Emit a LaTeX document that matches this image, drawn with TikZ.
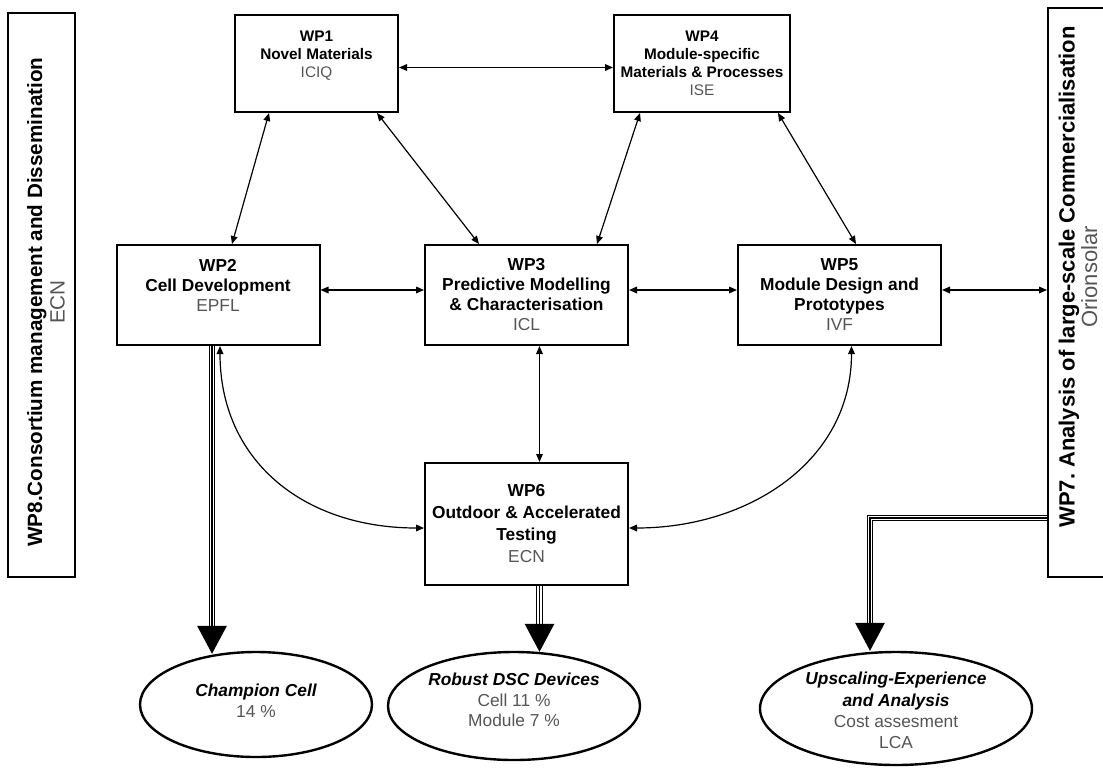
\documentclass[tikz,border=0pt]{standalone}
\usepackage{fontspec}
\setmainfont{Liberation Sans}
\usetikzlibrary{arrows.meta,shapes.geometric,calc}
\definecolor{partner}{RGB}{85,85,85}
\begin{document}
\begin{tikzpicture}[x=0.75pt,y=-0.75pt,
  every node/.style={font=\fontsize{13}{15.5}\selectfont},
  wpbox/.style={draw, line width=1.5pt, rectangle, align=center, inner sep=0pt, font=\fontsize{13}{15}\selectfont\bfseries},
  topbox/.style={wpbox, minimum height=72.75pt, font=\fontsize{11.5}{13.5}\selectfont\bfseries},
  midbox/.style={wpbox, minimum width=152.25pt, minimum height=75pt},
  sidebox/.style={draw, line width=1.5pt, rectangle, inner sep=0pt},
  sidetext/.style={rotate=90, align=center, inner sep=0pt},
  goal/.style={draw, ellipse, line width=1.8pt, inner sep=0pt},
  goaltext/.style={align=center, inner sep=0pt, font=\fontsize{13}{15.5}\selectfont\bfseries\itshape},
  link/.style={line width=0.9pt, {Triangle[length=6pt,width=5pt]}-{Triangle[length=6pt,width=5pt]}},
  tripleout/.style={line width=0.8pt, double=white, double distance=3.6pt, shorten >=18pt},
  triplemid/.style={line width=1.4pt, -{Triangle[length=21pt,width=22pt]}},
]
\useasboundingbox (0,0) rectangle (1103,775);
\clip (0,0) rectangle (1103,775);

% work-package boxes
\node[topbox, minimum width=122.25pt] (wp1) at (316.5,63.5) {WP1\\Novel Materials\\{\mdseries\color{partner}ICIQ}\\\mbox{}};
\node[topbox, minimum width=132pt] (wp4) at (702,63.5) {WP4\\Module-specific\\Materials \& Processes\\{\mdseries\color{partner}ISE}};
\node[midbox] (wp2) at (218,295) {WP2\\Cell Development\\{\mdseries\color{partner}EPFL}\\\mbox{}};
\node[midbox] (wp3) at (526.5,295) {WP3\\Predictive Modelling\\\& Characterisation\\{\mdseries\color{partner}ICL}};
\node[midbox] (wp5) at (839.5,295) {WP5\\Module Design and\\Prototypes\\{\mdseries\color{partner}IVF}};
\node[midbox, minimum height=91.5pt, font=\fontsize{13}{16.5}\selectfont\bfseries] (wp6) at (526.5,524) {WP6\\Outdoor \& Accelerated\\Testing\\{\mdseries\color{partner}ECN}};

% side boxes
\node[sidebox, minimum width=50.25pt, minimum height=423pt] (wp8) at (41.5,295) {};
\node[sidetext, font=\fontsize{15.5}{17}\selectfont\bfseries] (wp8t) at (46,302) {WP8.Consortium management and Dissemination\\{\mdseries\color{partner}ECN}};
\node[sidebox, minimum width=57pt, minimum height=426.75pt] (wp7) at (1086,292.5) {};
\node[sidetext, font=\fontsize{16.5}{17}\selectfont\bfseries] (wp7t) at (1078,277) {WP7.\ Analysis of large-scale Commercialisation\\{\mdseries\color{partner}Orionsolar}};

% goals
\node[goal, minimum width=174pt, minimum height=78.75pt] (champ) at (256,704.5) {};
\node[goaltext] (champt) at ($(champ.center)+(0,-4)$) {Champion Cell\\{\mdseries\upshape\color{partner}14 \%}};
\node[goal, minimum width=189pt, minimum height=81pt] (robust) at (514,706) {};
\node[goaltext] (robustt) at ($(robust.center)+(0,-6)$) {Robust DSC Devices\\{\mdseries\upshape\color{partner}Cell 11 \%}\\{\mdseries\upshape\color{partner}Module 7 \%}};
\node[goal, minimum width=204pt, minimum height=84.75pt] (ups) at (896,708.5) {};
\node[goaltext, font=\fontsize{13}{16}\selectfont\bfseries\itshape] (upst) at ($(ups.center)+(0,2)$) {Upscaling-Experience\\and Analysis\\{\mdseries\upshape\color{partner}Cost assesment}\\{\mdseries\upshape\color{partner}LCA}};

% links
\draw[link] ($(wp1.east)+(0,4)$) -- ($(wp4.west)+(0,4)$);
\draw[link] ($(wp2.east)+(0,-5)$) -- ($(wp3.west)+(0,-5)$);
\draw[link] ($(wp3.east)+(0,-5)$) -- ($(wp5.west)+(0,-5)$);
\draw[link] ($(wp5.east)+(0,-5)$) -- ($(wp5.east -| wp7.west)+(0,-5)$);
\draw[link] ($(wp3.south)+(13,0)$) -- ($(wp6.north)+(13,0)$);
\draw[link] ($(wp1.south west)+(35,0)$) -- ($(wp2.north)+(14,0)$);
\draw[link] ($(wp1.south west)+(143,0)$) -- ($(wp3.north west)+(55,0)$);
\draw[link] ($(wp4.south west)+(27,0)$) -- ($(wp3.north west)+(173,0)$);
\draw[link] ($(wp4.south west)+(165,0)$) -- ($(wp5.north west)+(119,0)$);
\draw[link] ($(wp2.south)+(2,0)$) .. controls ($(wp2.south)+(2,115)$) and ($(wp6.west)+(-120,4)$) .. ($(wp6.west)+(0,4)$);
\draw[link] ($(wp5.south)+(12,0)$) .. controls ($(wp5.south)+(12,115)$) and ($(wp6.east)+(120,4)$) .. ($(wp6.east)+(0,4)$);

% triple arrows
\coordinate (t2) at ($(wp2.south)+(-6,0)$);
\coordinate (t2e) at ($(t2 |- champ.north)+(0,3)$);
\draw[tripleout] (t2) -- (t2e);
\draw[triplemid] (t2) -- (t2e);
\coordinate (t6) at ($(wp6.south)+(13,0)$);
\coordinate (t6e) at ($(t6 |- robust.north)+(0,1)$);
\draw[tripleout] (t6) -- (t6e);
\draw[triplemid] (t6) -- (t6e);
\coordinate (t7) at ($(wp7.west)+(0,225.5)$);
\coordinate (t7c) at ($(t7 -| ups.north)+(-26,0)$);
\coordinate (t7e) at (t7c |- ups.north);
\draw[tripleout] (t7) -- (t7c) -- (t7e);
\draw[triplemid] (t7) -- (t7c) -- (t7e);
\end{tikzpicture}
\end{document}
